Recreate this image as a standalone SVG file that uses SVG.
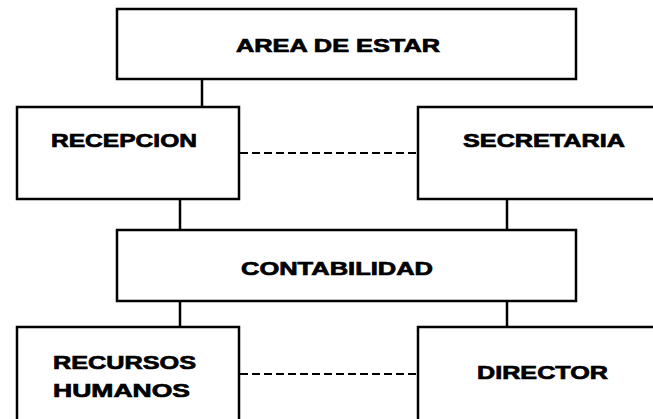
<svg xmlns="http://www.w3.org/2000/svg" width="653" height="419" viewBox="0 0 653 419">
<style>
.box{fill:#fff;stroke:#000;stroke-width:2.5}
.ln{stroke:#000;stroke-width:2.5;fill:none}
.dash{stroke:#000;stroke-width:2;stroke-dasharray:8 4;fill:none}
.t{font-family:"Liberation Sans",Arial,sans-serif;font-weight:bold;font-size:19px;fill:#000;stroke:#000;stroke-width:0.7}
</style>
<rect width="653" height="419" fill="#fff"/>
<g id="connectors">
<line class="ln" x1="202" y1="79" x2="202" y2="107"/>
<line class="ln" x1="180" y1="199" x2="180" y2="230"/>
<line class="ln" x1="507" y1="199" x2="507" y2="230"/>
<line class="ln" x1="180" y1="301" x2="180" y2="327"/>
<line class="ln" x1="507" y1="301" x2="507" y2="327"/>
<line class="dash" x1="240" y1="153" x2="418" y2="153"/>
<line class="dash" x1="240" y1="374" x2="418" y2="374"/>
</g>
<g id="area-de-estar">
<rect class="box" x="117" y="9" width="459" height="70"/>
<text class="t" x="236" y="52" textLength="204" lengthAdjust="spacingAndGlyphs">AREA DE ESTAR</text>
</g>
<g id="recepcion">
<rect class="box" x="17" y="107" width="222" height="92"/>
<text class="t" x="51" y="147" textLength="146" lengthAdjust="spacingAndGlyphs">RECEPCION</text>
</g>
<g id="secretaria">
<rect class="box" x="418" y="107" width="250" height="92"/>
<text class="t" x="463" y="147" textLength="162" lengthAdjust="spacingAndGlyphs">SECRETARIA</text>
</g>
<g id="contabilidad">
<rect class="box" x="117" y="230" width="459" height="71"/>
<text class="t" x="241" y="275" textLength="192" lengthAdjust="spacingAndGlyphs">CONTABILIDAD</text>
</g>
<g id="recursos-humanos">
<rect class="box" x="17" y="327" width="222" height="110"/>
<text class="t" x="53" y="369" textLength="143" lengthAdjust="spacingAndGlyphs">RECURSOS</text>
<text class="t" x="53" y="397" textLength="137" lengthAdjust="spacingAndGlyphs">HUMANOS</text>
</g>
<g id="director">
<rect class="box" x="418" y="327" width="250" height="110"/>
<text class="t" x="477" y="379" textLength="131" lengthAdjust="spacingAndGlyphs">DIRECTOR</text>
</g>
</svg>
